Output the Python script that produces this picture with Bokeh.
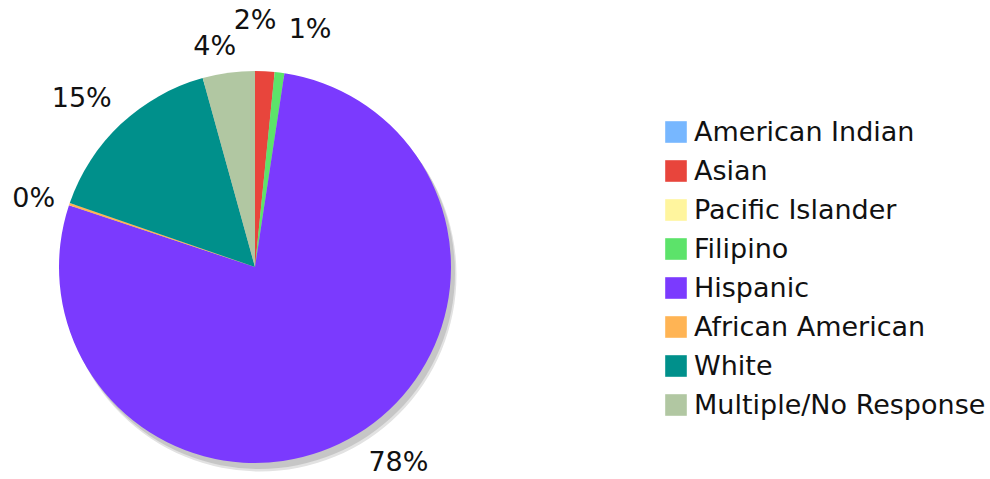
import numpy as np
from bokeh.plotting import figure
from bokeh.models import ColumnDataSource, Range1d, Legend, LegendItem
from bokeh.core.properties import value
from bokeh.embed import file_html
from bokeh.resources import INLINE

# ---------------- data ----------------
categories = ["American Indian", "Asian", "Pacific Islander", "Filipino",
              "Hispanic", "African American", "White", "Multiple/No Response"]
percents = [0.0, 1.6, 0.0, 0.8, 77.7, 0.2, 15.4, 4.3]
slice_labels = ["", "2%", "", "1%", "78%", "0%", "15%", "4%"]
colors = ["#77b7ff", "#e8453c", "#fff59e", "#5ce36a",
          "#7b3afe", "#ffb454", "#00908b", "#b1c7a2"]

# ---------------- layout / style ----------------
W, H = 990, 479
FONT = "DejaVu Sans"
cx, cy, r = 254.5, 212.5, 196.0          # pie centre / radius (plot units = px)
label_r = 240.0
# small per-label nudges (screen px) to avoid collisions, like the original
nudge_x = [0, -12, 0, 25, 18, 6, -9, -8]
nudge_y = [0, -8, 0, 0, -10, 8, 5, 16]

p = figure(width=W, height=H, x_range=Range1d(0, W), y_range=Range1d(0, H),
           output_backend="svg", toolbar_location=None, min_border=0,
           x_axis_type=None, y_axis_type=None)
p.grid.visible = False
p.outline_line_color = None
p.background_fill_color = "white"
p.border_fill_color = "white"

# shadow
p.circle(x=[cx + 5], y=[cy - 8], radius=r + 0.5, fill_color="#e2e2e2", line_color=None)
p.circle(x=[cx + 4], y=[cy - 6], radius=r, fill_color="#c6c6c6", line_color=None)

vals = np.array(percents, dtype=float)
frac = vals / vals.sum()
cum_end = np.cumsum(frac)
cum_start = cum_end - frac
theta_s = cum_start * 2 * np.pi
theta_e = cum_end * 2 * np.pi
theta_m = (theta_s + theta_e) / 2

nz = vals > 0
src = ColumnDataSource(dict(
    start=(np.pi / 2 - theta_s)[nz],
    end=(np.pi / 2 - theta_e)[nz],
    color=np.array(colors)[nz],
))
p.wedge(x=cx, y=cy, radius=r, start_angle="start", end_angle="end",
        direction="clock", fill_color="color", line_color=None, source=src)

has_lab = np.array([s != "" for s in slice_labels])
lab_src = ColumnDataSource(dict(
    x=(cx + label_r * np.sin(theta_m))[has_lab],
    y=(cy + label_r * np.cos(theta_m))[has_lab],
    text=np.array(slice_labels)[has_lab],
    dx=np.array(nudge_x)[has_lab],
    dy=np.array(nudge_y)[has_lab],
))
p.text(x="x", y="y", text="text", x_offset="dx", y_offset="dy", source=lab_src,
       text_font=value(FONT), text_font_size="27px", text_color="#111111",
       text_align="center", text_baseline="middle")

# legend: one (invisible, NaN-positioned) swatch renderer indexed per category
n = len(categories)
leg_src = ColumnDataSource(dict(
    l=[np.nan] * n, r=[np.nan] * n, t=[np.nan] * n, b=[np.nan] * n,
    color=colors, name=categories,
))
sw = p.quad(left="l", right="r", top="t", bottom="b", fill_color="color",
            line_color=None, source=leg_src)
items = [LegendItem(label=name, renderers=[sw], index=i)
         for i, name in enumerate(categories)]

legend = Legend(items=items, location=(662, 59),
                glyph_width=27, glyph_height=27, label_height=27,
                label_standoff=5, spacing=8, padding=0, margin=0,
                border_line_color=None, background_fill_alpha=0,
                label_text_font=FONT, label_text_font_size="27px",
                label_text_color="#111111")
p.add_layout(legend)

open("out.html", "w").write(file_html(p, INLINE))
